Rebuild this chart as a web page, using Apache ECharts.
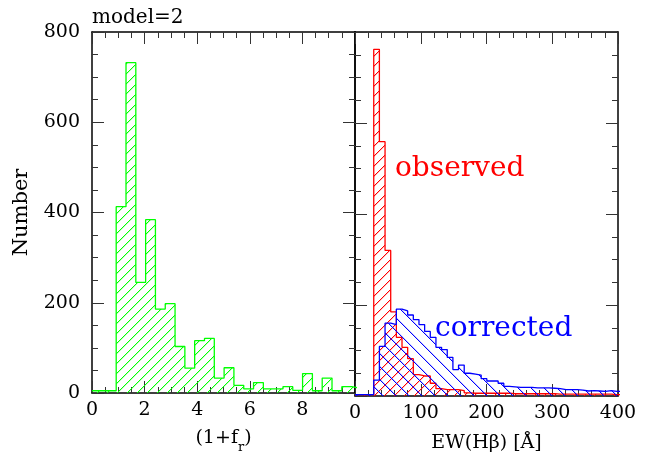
<!DOCTYPE html>
<html><head><meta charset="utf-8">
<script src="https://cdn.jsdelivr.net/npm/echarts@6/dist/echarts.min.js"></script>
<style>html,body{margin:0;padding:0;background:#fff}#c{width:651px;height:459px}</style>
</head><body><div id="c"></div><script>
// ---- data ----
const frBinStart = 0.92, frBinWidth = 0.373, frBaseLevel = 5;
const frCounts = [413, 732, 245, 384, 186, 198, 103, 55, 116, 121, 33, 56, 17, 9, 23, 9, 9, 14, 6, 43, 5, 33, 5, 14, 10];
const ewBinStart = 28.5, ewBinWidth = 8.6, ewBaseLevel = 3;
const observedCounts = [762, 559, 320, 185, 129, 107, 82, 47, 44, 44, 28, 16, 14, 14, 14, 12, 7, 6, 6, 6, 6, 6, 6, 6, 5, 5, 5, 5, 5, 5, 5, 5, 4, 4, 4, 4, 4, 4, 4, 4, 4, 4, 3, 3];
const correctedCounts = [35, 109, 160, 157, 191, 187, 178, 168, 157, 142, 129, 107, 102, 85, 58, 68, 50, 48, 46, 38, 33, 33, 28, 21, 20, 19, 19, 19, 18, 18, 18, 17, 16, 14, 14, 14, 13, 11, 12, 11, 10, 12, 10, 10];
const frTickLabels = ['0', '2', '4', '6', '8'];
const ewTickLabels = ['0', '100', '200', '300', '400'];
const yTickLabels = ['0', '200', '400', '600', '800'];

const FONT = '"DejaVu Serif", serif';

function stepData(start, width, counts, base) {
  const d = [[0, base]];
  counts.forEach((c, i) => d.push([start + i * width, c]));
  d.push([start + counts.length * width, counts[counts.length - 1]]);
  return d;
}
function hatch(rgb, s, dir) {
  const c = document.createElement('canvas');
  c.width = s; c.height = s;
  const g = c.getContext('2d');
  const img = g.createImageData(s, s);
  const put = (x, y, a) => {
    if (x < 0 || y < 0 || x >= s || y >= s) return;
    const i = (y * s + x) * 4;
    img.data[i] = rgb[0]; img.data[i + 1] = rgb[1]; img.data[i + 2] = rgb[2];
    img.data[i + 3] = Math.max(img.data[i + 3], a);
  };
  for (let x = 0; x < s; x++) {
    const y = dir === '/' ? s - 1 - x : x;
    put(x, y, 255);
    put(x, dir === '/' ? y + 1 : y - 1, 60);
    put(x, dir === '/' ? (y + 1) % s : (y - 1 + s) % s, 60);
  }
  g.putImageData(img, 0, 0);
  return c;
}

const tickCol = '#333';
function axisBase(gridIndex, min, max, interval, minorSplit, position) {
  return {
    type: 'value', gridIndex, min, max, interval, position,
    axisLine: { show: true, onZero: false, lineStyle: { color: '#000', width: 1.5 } },
    axisTick: { show: true, inside: true, length: 12, lineStyle: { color: tickCol, width: 1 } },
    minorTick: { show: true, splitNumber: minorSplit, length: 6, lineStyle: { color: tickCol, width: 1 } },
    splitLine: { show: false }, minorSplitLine: { show: false },
    axisLabel: { show: false }
  };
}
const labelStyle = { show: true, color: '#000', fontFamily: FONT, fontSize: 19 };

const xAxes = [
  Object.assign(axisBase(0, 0, 10, 2, 4, 'bottom'), {
    axisLabel: Object.assign({}, labelStyle, { margin: 8, formatter: v => frTickLabels.includes(String(v)) ? String(v) : '' }),
    name: '{a|(1+f}{s|r}{a|)}', nameLocation: 'middle', nameGap: 36,
    nameTextStyle: { rich: {
      a: { fontFamily: FONT, fontSize: 19, color: '#000', lineHeight: 22, verticalAlign: 'top' },
      s: { fontFamily: FONT, fontSize: 13, color: '#000', lineHeight: 12, padding: [12, 0, 0, 0], verticalAlign: 'top' } } }
  }),
  axisBase(0, 0, 10, 2, 4, 'top'),
  Object.assign(axisBase(1, 0, 400, 100, 5, 'bottom'), {
    axisLabel: Object.assign({}, labelStyle, { margin: 8, formatter: v => ewTickLabels.includes(String(v)) ? String(v) : '' }),
    name: 'EW(Hβ) [Å]', nameLocation: 'middle', nameGap: 36,
    nameTextStyle: { fontFamily: FONT, fontSize: 19, color: '#000', lineHeight: 22, verticalAlign: 'top' }
  }),
  axisBase(1, 0, 400, 100, 5, 'top')
];
const yAxes = [
  Object.assign(axisBase(0, 0, 800, 200, 4, 'left'), {
    axisLabel: Object.assign({}, labelStyle, { margin: 12, formatter: v => yTickLabels.includes(String(v)) ? String(v) : '' }),
    name: 'Number', nameLocation: 'middle', nameGap: 60, nameRotate: 90,
    nameTextStyle: { fontFamily: FONT, fontSize: 21, color: '#000' }
  }),
  axisBase(0, 0, 800, 200, 4, 'right'),
  axisBase(1, 0, 800, 200, 4, 'left'),
  axisBase(1, 0, 800, 200, 4, 'right')
];

function histSeries(data, xi, yi, color, pattern, z) {
  return {
    type: 'line', xAxisIndex: xi, yAxisIndex: yi, step: 'end', symbol: 'none', z,
    data, lineStyle: { color, width: 1.3 },
    areaStyle: { color: { image: pattern, repeat: 'repeat' }, opacity: 1 },
    silent: true
  };
}

const chart = echarts.init(document.getElementById('c'), null, { renderer: 'canvas' });
chart.setOption({
  animation: false,
  backgroundColor: '#fff',
  grid: [
    { left: 92, top: 32, width: 263, height: 367 },
    { left: 355, top: 32, width: 263, height: 367 }
  ],
  xAxis: xAxes,
  yAxis: yAxes,
  series: [
    histSeries(stepData(frBinStart, frBinWidth, frCounts, frBaseLevel), 0, 0, '#00ff00', hatch([0, 255, 0], 10, '/'), 2),
    histSeries(stepData(ewBinStart, ewBinWidth, observedCounts, ewBaseLevel), 2, 2, '#ff0000', hatch([255, 0, 0], 10, '/'), 2),
    histSeries(stepData(ewBinStart, ewBinWidth, correctedCounts, ewBaseLevel), 2, 2, '#0000ff', hatch([0, 0, 255], 13, '\\'), 3)
  ],
  graphic: [
    { type: 'text', left: 92, top: 8, style: { text: 'model=2', font: '20px ' + FONT, fill: '#000' } },
    { type: 'text', left: 395, top: 155, style: { text: 'observed', font: '28px ' + FONT, fill: '#ff0000' } },
    { type: 'text', left: 435, top: 315, style: { text: 'corrected', font: '28px ' + FONT, fill: '#0000ff' } }
  ]
});
</script></body></html>
